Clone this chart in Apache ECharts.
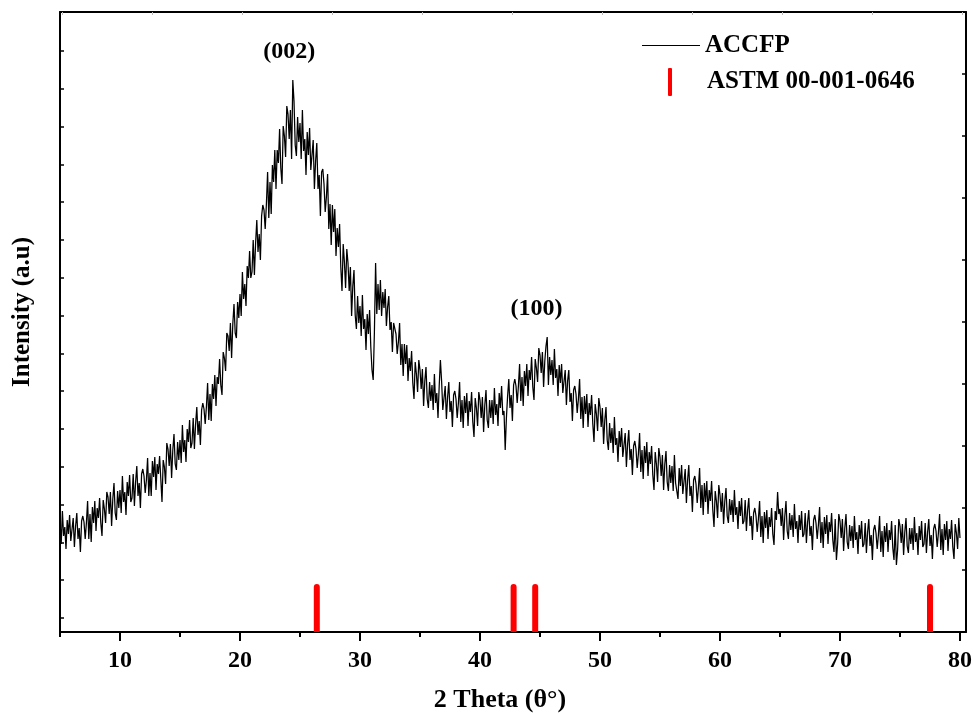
<!DOCTYPE html>
<html>
<head>
<meta charset="utf-8">
<script src="https://cdn.jsdelivr.net/npm/echarts@6/dist/echarts.min.js"></script>
<style>
html,body{margin:0;padding:0;background:#fff;}
#main{width:973px;height:714px;}
</style>
</head>
<body>
<div id="main"></div>
<script>
// ---- data ----
const thetaStart = 5;
const thetaStep = 0.1;
// ACCFP intensity (a.u.), one row per degree: d.0 ... d.9
const accfpIntensity = [
  111, 88, 121, 96, 105, 83, 112, 98, 117, 91,        // 5
  93, 114, 85, 106, 119, 93, 104, 80, 111, 116,       // 6
  110, 93, 109, 131, 93, 118, 90, 125, 109, 131,      // 7
  101, 124, 114, 134, 109, 96, 132, 123, 109, 140,    // 8
  135, 118, 140, 106, 133, 149, 119, 112, 141, 124,   // 9
  142, 119, 156, 130, 140, 117, 150, 136, 157, 130,   // 10
  134, 158, 126, 150, 166, 136, 149, 124, 158, 163,   // 11
  156, 139, 152, 174, 136, 159, 136, 171, 155, 175,   // 12
  142, 168, 158, 176, 153, 130, 172, 165, 148, 189,   // 13
  183, 166, 188, 154, 182, 198, 168, 162, 190, 172,   // 14
  192, 169, 207, 180, 192, 170, 203, 190, 212, 184,   // 15
  189, 214, 183, 208, 225, 197, 211, 187, 222, 229,   // 16
  223, 208, 225, 249, 212, 238, 211, 248, 233, 257,   // 17
  226, 255, 248, 273, 247, 237, 280, 274, 261, 299,   // 18
  296, 281, 309, 274, 308, 328, 299, 294, 330, 314,   // 19
  338, 316, 360, 333, 348, 326, 366, 354, 381, 354,   // 20
  360, 392, 357, 389, 412, 380, 398, 372, 416, 427,   // 21
  422, 403, 428, 460, 414, 450, 418, 467, 450, 482,   // 22
  443, 482, 469, 503, 464, 448, 506, 496, 475, 526,   // 23
  518, 493, 522, 473, 552, 531, 487, 476, 515, 490,   // 24
  509, 473, 522, 481, 493, 457, 500, 477, 504, 462,   // 25
  464, 492, 443, 471, 489, 443, 457, 416, 460, 463,   // 26
  448, 420, 435, 458, 403, 428, 387, 427, 400, 423,   // 27
  376, 404, 385, 408, 365, 341, 388, 370, 344, 383,   // 28
  369, 341, 365, 316, 346, 362, 317, 303, 336, 309,   // 29
  326, 296, 337, 303, 313, 282, 318, 298, 322, 285,   // 30
  262, 252, 300, 369, 318, 348, 322, 352, 316, 340,   // 31
  324, 343, 306, 325, 336, 302, 310, 280, 309, 310,   // 32
  298, 278, 290, 309, 267, 288, 256, 288, 268, 287,   // 33
  251, 274, 261, 281, 249, 233, 270, 258, 240, 272,   // 34
  262, 243, 263, 226, 251, 265, 233, 224, 250, 231,   // 35
  247, 222, 258, 229, 239, 214, 246, 272, 251, 222,   // 36
  224, 246, 213, 235, 250, 220, 231, 205, 237, 241,   // 37
  233, 214, 229, 250, 210, 232, 204, 236, 219, 239,   // 38
  206, 231, 220, 240, 210, 195, 234, 224, 206, 240,   // 39
  232, 214, 235, 200, 227, 242, 212, 204, 232, 214,   // 40
  232, 208, 244, 217, 228, 206, 239, 224, 246, 217,   // 41
  221, 182, 214, 236, 253, 224, 237, 211, 247, 253,   // 42
  246, 229, 246, 268, 231, 255, 226, 261, 246, 268,   // 43
  236, 262, 252, 275, 245, 232, 273, 264, 250, 284,   // 44
  277, 259, 280, 245, 271, 286, 295, 247, 275, 257,   // 45
  272, 247, 283, 254, 263, 236, 267, 249, 268, 239,   // 46
  241, 262, 227, 251, 262, 230, 239, 211, 242, 246,   // 47
  238, 219, 233, 253, 213, 235, 204, 236, 218, 238,   // 48
  205, 229, 217, 237, 208, 190, 228, 218, 201, 234,   // 49
  225, 205, 224, 188, 212, 225, 192, 182, 209, 189,   // 50
  204, 179, 215, 187, 194, 170, 201, 185, 204, 175,   // 51
  177, 199, 165, 188, 202, 172, 183, 157, 186, 191,   // 52
  183, 164, 178, 199, 160, 182, 153, 186, 169, 190,   // 53
  156, 180, 168, 186, 157, 142, 180, 168, 150, 184,   // 54
  175, 156, 177, 142, 168, 181, 150, 141, 167, 149,   // 55
  166, 141, 177, 149, 151, 133, 164, 146, 167, 138,   // 56
  140, 163, 129, 152, 167, 136, 146, 120, 152, 156,   // 57
  148, 129, 144, 164, 124, 147, 117, 149, 130, 151,   // 58
  118, 142, 131, 151, 122, 105, 141, 131, 114, 147,   // 59
  137, 120, 139, 108, 131, 144, 116, 109, 133, 117,   // 60
  132, 110, 142, 117, 125, 103, 131, 116, 134, 108,   // 61
  111, 132, 101, 122, 134, 106, 116, 92, 119, 124,    // 62
  116, 100, 113, 131, 95, 116, 89, 120, 104, 122,     // 63
  93, 115, 105, 124, 98, 87, 121, 112, 140, 118,      // 64
  123, 106, 124, 92, 116, 131, 101, 93, 119, 102,     // 65
  117, 95, 128, 103, 111, 89, 117, 102, 121, 95,      // 66
  98, 119, 89, 110, 122, 96, 106, 82, 112, 117,       // 67
  109, 93, 107, 125, 89, 110, 84, 115, 98, 117,       // 68
  88, 110, 100, 119, 92, 80, 113, 72, 88, 118,        // 69
  111, 94, 113, 81, 104, 118, 90, 83, 107, 91,        // 70
  106, 84, 116, 92, 100, 78, 107, 93, 111, 85,        // 71
  88, 109, 79, 100, 113, 86, 97, 72, 102, 107,        // 72
  99, 83, 97, 116, 80, 101, 75, 106, 90, 109,         // 73
  80, 102, 92, 111, 84, 72, 107, 67, 82, 113,         // 74
  106, 89, 108, 77, 100, 114, 86, 79, 104, 88,        // 75
  104, 82, 115, 90, 99, 77, 106, 92, 111, 85,         // 76
  88, 109, 79, 100, 113, 86, 97, 73, 103, 108,        // 77
  101, 85, 99, 118, 82, 103, 77, 108, 92, 111,        // 78
  81, 103, 93, 112, 85, 73, 108, 99, 83, 114,         // 79
  94                                                  // 80
];
// ASTM 00-001-0646 reference lines
const astmTheta = [26.4, 42.8, 44.6, 77.5];
const astmHeight = [48, 48, 48, 48];
// tick labels
const xTickLabels = [10, 20, 30, 40, 50, 60, 70, 80];
const xMinorTicks = [5, 15, 25, 35, 45, 55, 65, 75];
// peak annotations
const peakLabels = ['(002)', '(100)'];
const peakTheta = [24.1, 44.7];
const peakY = [580, 323];

const seriesName1 = 'ACCFP';
const seriesName2 = 'ASTM 00-001-0646';

// ---- build ----
const lineData = accfpIntensity.map((v, i) => [+(thetaStart + i * thetaStep).toFixed(2), v]);
const barData = astmTheta.map((t, i) => [t, astmHeight[i]]);
const leftTicks = Array.from({length: 16}, (_, k) => 14 + 37.8 * k);
const topTicks = Array.from({length: 11}, (_, k) => 5.17 + 7.5 * k);

const FONT = '"Liberation Serif", "Times New Roman", serif';
const chart = echarts.init(document.getElementById('main'));
const option = {
  backgroundColor: '#fff',
  animation: false,
  grid: {left: 60, right: 7, top: 12, bottom: 82, containLabel: false, outerBoundsMode: 'none'},
  legend: [
    {
      data: [seriesName1], left: 642, top: 33, padding: 0, itemWidth: 58, itemHeight: 1.2,
      icon: 'path://M0,0H58V1H0Z', itemGap: 0,
      textStyle: {fontFamily: FONT, fontWeight: 'bold', fontSize: 25, color: '#000'}
    },
    {
      data: [seriesName2], left: 668, top: 68, padding: 0, itemWidth: 4, itemHeight: 28,
      icon: 'roundRect',
      textStyle: {fontFamily: FONT, fontWeight: 'bold', fontSize: 25, color: '#000', padding: [0, 0, 0, 30]}
    }
  ],
  xAxis: [
    {
      type: 'value', min: 5, max: 80.5, position: 'bottom',
      axisLine: {show: true, onZero: false, lineStyle: {color: '#000', width: 2}},
      axisTick: {show: true, customValues: xTickLabels, length: 9, lineStyle: {color: '#000', width: 2}},
      axisLabel: {show: true, customValues: xTickLabels, margin: 17, fontFamily: FONT, fontWeight: 'bold', fontSize: 24, color: '#000'},
      splitLine: {show: false},
      name: '2 Theta (θ°)', nameLocation: 'middle', nameGap: 55,
      nameTextStyle: {fontFamily: FONT, fontWeight: 'bold', fontSize: 26, color: '#000', padding: [0, 26, 0, 0]}
    },
    {
      type: 'value', min: 5, max: 80.5, position: 'bottom',
      axisLine: {show: false, onZero: false},
      axisTick: {show: true, customValues: xMinorTicks, length: 5, lineStyle: {color: '#000', width: 2}},
      axisLabel: {show: false},
      splitLine: {show: false}
    },
    {
      type: 'value', min: 5, max: 80.5, position: 'top',
      axisLine: {show: true, onZero: false, lineStyle: {color: '#000', width: 2}},
      axisTick: {show: true, inside: true, customValues: topTicks, length: 3, lineStyle: {color: '#bbb', width: 1}},
      axisLabel: {show: false},
      splitLine: {show: false}
    }
  ],
  yAxis: [
    {
      type: 'value', min: 0, max: 620, position: 'left',
      axisLine: {show: true, onZero: false, lineStyle: {color: '#000', width: 2}},
      axisTick: {show: true, inside: true, customValues: leftTicks, length: 4, lineStyle: {color: '#000', width: 1.5}},
      axisLabel: {show: false},
      splitLine: {show: false},
      name: 'Intensity (a.u)', nameLocation: 'middle', nameGap: 25, nameRotate: 90,
      nameTextStyle: {fontFamily: FONT, fontWeight: 'bold', fontSize: 25, color: '#000', padding: [0, 0, 0, 20]}
    },
    {
      type: 'value', min: 0, max: 620, interval: 62, position: 'right',
      axisLine: {show: true, onZero: false, lineStyle: {color: '#000', width: 2}},
      axisTick: {show: true, inside: true, length: 4, lineStyle: {color: '#000', width: 1.5}},
      axisLabel: {show: false},
      splitLine: {show: false}
    }
  ],
  series: [
    {
      name: seriesName1, type: 'line', xAxisIndex: 0, yAxisIndex: 0,
      data: lineData, showSymbol: false, symbol: 'none', sampling: null,
      lineStyle: {color: '#000', width: 1.25}, itemStyle: {color: '#000'}, z: 3
    },
    {
      name: seriesName2, type: 'bar', xAxisIndex: 0, yAxisIndex: 0,
      data: barData, barWidth: 6,
      itemStyle: {color: '#ff0000', borderRadius: [3, 3, 0, 0]}, z: 2
    }
  ]
};
chart.setOption(option);

const g = peakLabels.map((t, i) => {
  const p = chart.convertToPixel({xAxisIndex: 0, yAxisIndex: 0}, [peakTheta[i], peakY[i]]);
  return {
    type: 'text', x: p[0], y: p[1],
    style: {text: t, fontFamily: FONT, fontWeight: 'bold', fontSize: 24, fill: '#000', align: 'center', verticalAlign: 'middle'}
  };
});
chart.setOption({graphic: g});
</script>
</body>
</html>
